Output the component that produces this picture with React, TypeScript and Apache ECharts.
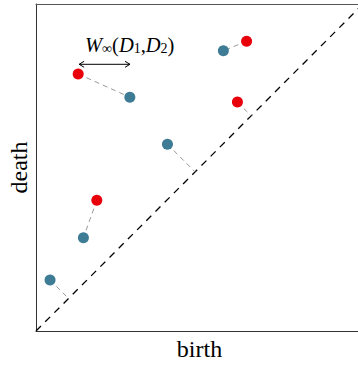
import React, { useEffect, useRef } from "react";
import * as echarts from "echarts";

// Persistence diagram points (birth, death), normalised to [0,1]
const blueBirth = [0.043, 0.145, 0.287, 0.402, 0.573];
const blueDeath = [0.156, 0.285, 0.715, 0.571, 0.857];
const redBirth = [0.129, 0.186, 0.616, 0.644];
const redDeath = [0.786, 0.4, 0.7, 0.886];

// Matching: index into red / blue; null means matched to the diagonal
const matchRed: (number | null)[] = [0, 1, 3, 2, null, null];
const matchBlue: (number | null)[] = [2, 1, 4, null, 3, 0];

// Bottleneck distance arrow (from red birth to blue birth)
const arrowFrom = [0.132];
const arrowTo = [0.2875];
const arrowLevel = [0.8156];

const axisNames = ["birth", "death"];

export default function App() {
  const ref = useRef<HTMLDivElement>(null);
  useEffect(() => {
    document.body.style.margin = "0";
    document.body.style.overflow = "hidden";
    document.documentElement.style.overflow = "hidden";
    const chart = echarts.init(ref.current!, null, { renderer: "svg" });
    const blue = blueBirth.map((b, i) => [b, blueDeath[i]]);
    const red = redBirth.map((b, i) => [b, redDeath[i]]);
    const lineData = matchRed.map((r, i) => {
      const b = matchBlue[i];
      let p1: number[];
      let p2: number[];
      if (r != null && b != null) {
        p1 = red[r];
        p2 = blue[b];
      } else {
        p1 = r != null ? red[r] : blue[b as number];
        const d = (p1[0] + p1[1]) / 2;
        p2 = [d, d];
      }
      return { coords: [p1, p2] };
    });
    const serif = "'Liberation Serif', 'DejaVu Serif', serif";
    const hidden = {
      axisTick: { show: false },
      axisLabel: { show: false },
      splitLine: { show: false },
    };
    const axisLine = { show: true, lineStyle: { color: "#333", width: 1 } };
    chart.setOption({
      animation: false,
      grid: {
        left: 36,
        top: 4,
        width: 327,
        height: 327,
        outerBoundsMode: "none",
      },
      xAxis: [
        {
          type: "value",
          min: 0,
          max: 1,
          name: axisNames[0],
          nameLocation: "middle",
          nameGap: 6,
          nameTextStyle: { fontFamily: serif, fontSize: 24, color: "#000" },
          axisLine,
          ...hidden,
        },
        {
          type: "value",
          position: "top",
          min: 0,
          max: 1,
          axisLine: { show: true, lineStyle: { color: "#555", width: 1 } },
          ...hidden,
        },
      ],
      yAxis: {
        type: "value",
        min: 0,
        max: 1,
        name: axisNames[1],
        nameLocation: "middle",
        nameGap: 5,
        nameRotate: 90,
        nameTextStyle: { fontFamily: serif, fontSize: 24, color: "#000" },
        axisLine,
        ...hidden,
      },
      graphic: [
        {
          type: "text",
          left: 85,
          top: 34,
          style: {
            text: "{w|W}{s|∞}{n|(}{w|D}{s|1}{n|,}{w|D}{s|2}{n|)}",
            fontFamily: serif,
            fill: "#000",
            rich: {
              w: { fontFamily: serif, fontStyle: "italic", fontSize: 20.5, lineHeight: 22, color: "#000" },
              n: { fontFamily: serif, fontSize: 20.5, lineHeight: 22, color: "#000" },
              s: { fontFamily: serif, fontSize: 14, lineHeight: 10, verticalAlign: "bottom", color: "#000" },
            },
          },
        },
        {
          type: "rect",
          left: 353,
          top: 16,
          z: 100,
          silent: true,
          shape: { width: 6, height: 313 },
          style: { fill: "#fff" },
        },
      ],
      series: [
        {
          type: "line",
          data: [
            [0, 0],
            [1, 1],
          ],
          symbol: "none",
          silent: true,
          lineStyle: { color: "#000", width: 1.3, type: [7, 6] },
          z: 1,
        },
        {
          type: "lines",
          coordinateSystem: "cartesian2d",
          data: lineData,
          silent: true,
          lineStyle: { color: "#999", width: 1, type: [5, 4], opacity: 1 },
          z: 2,
        },
        {
          type: "custom",
          silent: true,
          data: arrowFrom.map((a, i) => [a, arrowTo[i], arrowLevel[i]]),
          renderItem: (params: any, api: any) => {
            const a = api.coord([api.value(0), api.value(2)]);
            const b = api.coord([api.value(1), api.value(2)]);
            const st = { stroke: "#000", lineWidth: 1, fill: null };
            return {
              type: "group",
              children: [
                { type: "line", shape: { x1: a[0], y1: a[1], x2: b[0], y2: b[1] }, style: st },
                {
                  type: "polyline",
                  shape: { points: [[a[0] + 5, a[1] - 3], [a[0], a[1]], [a[0] + 5, a[1] + 3]] },
                  style: st,
                },
                {
                  type: "polyline",
                  shape: { points: [[b[0] - 5, b[1] - 3], [b[0], b[1]], [b[0] - 5, b[1] + 3]] },
                  style: st,
                },
              ],
            };
          },
          z: 3,
        },
        {
          type: "scatter",
          data: blue,
          symbolSize: 11,
          itemStyle: { color: "#3e7c96", opacity: 1 },
          z: 5,
        },
        {
          type: "scatter",
          data: red,
          symbolSize: 11,
          itemStyle: { color: "#e8000b", opacity: 1 },
          z: 5,
        },
      ],
    });
    return () => chart.dispose();
  }, []);
  return <div ref={ref} style={{ width: 358, height: 367, overflow: "hidden" }} />;
}
